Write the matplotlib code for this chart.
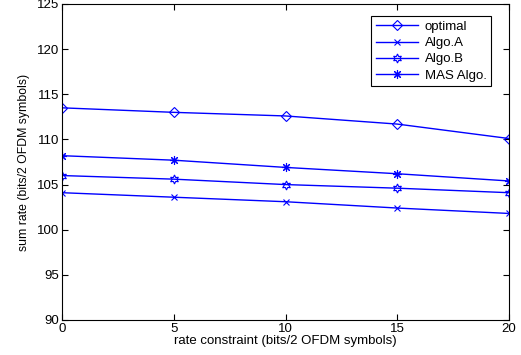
import numpy as np
from matplotlib import pyplot as plt

plt.rcParams['font.family'] = ['Liberation Sans', 'DejaVu Sans']

rate_constraint = [0, 5, 10, 15, 20]
optimal = [113.5, 113.0, 112.6, 111.7, 110.1]
algo_a  = [104.1, 103.6, 103.1, 102.4, 101.8]
algo_b  = [106.0, 105.6, 105.0, 104.6, 104.1]
mas     = [108.2, 107.7, 106.9, 106.2, 105.4]

series = [
    ('optimal',   optimal, 'D', 5, 'none'),
    ('Algo.A',    algo_a,  'x', 4.5, 'b'),
    ('Algo.B',    algo_b,  (6, 1, 0), 6.5, 'none'),
    ('MAS Algo.', mas,     (8, 2, 0), 6.5, 'b'),
]

fig = plt.figure(figsize=(5.21, 3.55), dpi=100)
ax = fig.add_axes([62/521, 1-320/355, (509-62)/521, (320-4)/355])

for name, y, m, ms, fc in series:
    ax.plot(rate_constraint, y, color='b', lw=1, marker=m, ms=ms,
            mfc=fc, mec='b', mew=0.8, label=name)

ax.set_xlim(0, 20)
ax.set_ylim(90, 125)
ax.set_xticks([0, 5, 10, 15, 20])
ax.set_yticks(np.arange(90, 126, 5))
ax.tick_params(direction='in', top=True, right=True, labelsize=9.5, length=4, pad=2)
ax.set_xlabel('rate constraint (bits/2 OFDM symbols)', fontsize=9.5, labelpad=0)
ax.set_ylabel('sum rate (bits/2 OFDM symbols)', fontsize=8.8, labelpad=5)

leg = ax.legend(loc='upper right', bbox_to_anchor=(0.966, 0.97), fontsize=9.5,
                fancybox=False, edgecolor='k', framealpha=1, handlelength=3.2,
                borderaxespad=0.2, labelspacing=0.3, handletextpad=0.5,
                borderpad=0.35)
leg.get_frame().set_linewidth(0.8)

plt.savefig('out.png', dpi=100)
